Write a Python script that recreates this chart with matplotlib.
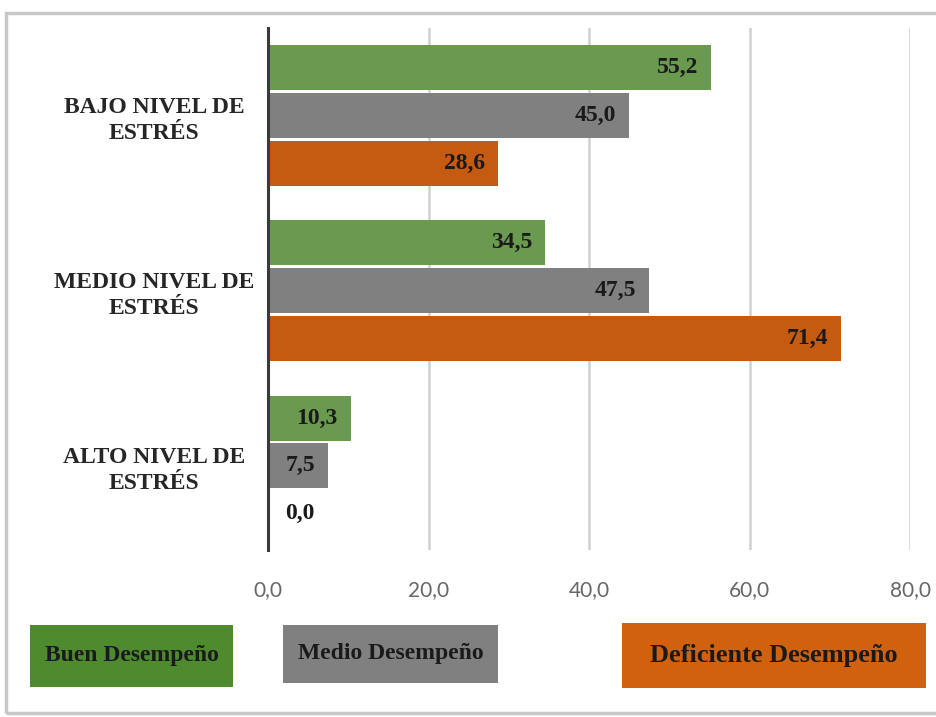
import matplotlib
matplotlib.use("Agg")
import matplotlib.pyplot as plt
import matplotlib.patches as mpatches
import numpy as np

categories = ['BAJO NIVEL DE\nESTRÉS', 'MEDIO NIVEL DE\nESTRÉS', 'ALTO NIVEL DE\nESTRÉS']
series_names = ['Buen Desempeño', 'Medio Desempeño', 'Deficiente Desempeño']
buen = [55.2, 34.5, 10.3]
medio = [45.0, 47.5, 7.5]
deficiente = [28.6, 71.4, 0.0]
xticks = [0, 20, 40, 60, 80]

bar_colors = ['#6a9a4f', '#808080', '#c55a11']
legend_colors = ['#4e8a2e', '#808080', '#d0620f']

plt.rcParams['font.family'] = 'Liberation Serif'

fig = plt.figure(figsize=(9.36, 7.17), dpi=100)
ax = fig.add_axes([0.2863, 0.233, 0.686, 0.728])

# outer frame of the chart area
fig.patches.append(mpatches.Rectangle((0.006, 0.006), 1.2, 0.976, transform=fig.transFigure,
                                      fill=False, edgecolor='#c8c8c8', linewidth=2.5))

group_y = np.array([2, 1, 0])
offsets = [0.273, 0.0, -0.273]
bar_h = 0.257

for vals, off, col in zip([buen, medio, deficiente], offsets, bar_colors):
    ys = group_y + off
    ax.barh(ys, vals, height=bar_h, color=col, zorder=3)
    for y, v in zip(ys, vals):
        txt = f'{v:.1f}'.replace('.', ',')
        if v < 3:
            ax.text(v + 2.1, y, txt, ha='left', va='center', fontsize=17,
                    fontweight='bold', color='#1a1a1a', zorder=4)
        else:
            ax.text(v - 1.6, y, txt, ha='right', va='center', fontsize=17,
                    fontweight='bold', color='#1a1a1a', zorder=4)

ax.set_xlim(0, 80)
ax.set_ylim(-0.48, 2.5)
ax.set_xticks(xticks)
ax.set_xticklabels([f'{t:.1f}'.replace('.', ',') for t in xticks],
                   fontsize=15, color='#666666', family='Lato')
ax.tick_params(axis='x', length=0, pad=22)
ax.set_yticks(group_y)
ax.set_yticklabels(categories, fontsize=17, fontweight='bold', color='#262626',
                   ha='center', linespacing=1.3)
ax.tick_params(axis='y', length=0, pad=82)

ax.grid(axis='x', color='#d0d0d0', linewidth=1.8, zorder=0)
for s in ['top', 'right', 'bottom']:
    ax.spines[s].set_visible(False)
ax.spines['left'].set_color('#3a3a3a')
ax.spines['left'].set_linewidth(2.2)
ax.spines['left'].set_zorder(5)

# legend boxes below the plot
boxes = [(30, 625, 203, 62), (283, 625, 215, 58), (622, 623, 304, 65)]
for (x, y, w, h), name, col in zip(boxes, series_names, legend_colors):
    fx, fy = x / 936, 1 - (y + h) / 717
    fw, fh = w / 936, h / 717
    fig.patches.append(mpatches.Rectangle((fx, fy), fw, fh, transform=fig.transFigure,
                                          facecolor=col, edgecolor='none'))
    fig.text(fx + fw / 2, fy + fh / 2, name, ha='center', va='center',
             fontsize=17 if col != legend_colors[2] else 19,
             fontweight='bold', color='#1a1a1a')

fig.savefig('out.png', dpi=100)
